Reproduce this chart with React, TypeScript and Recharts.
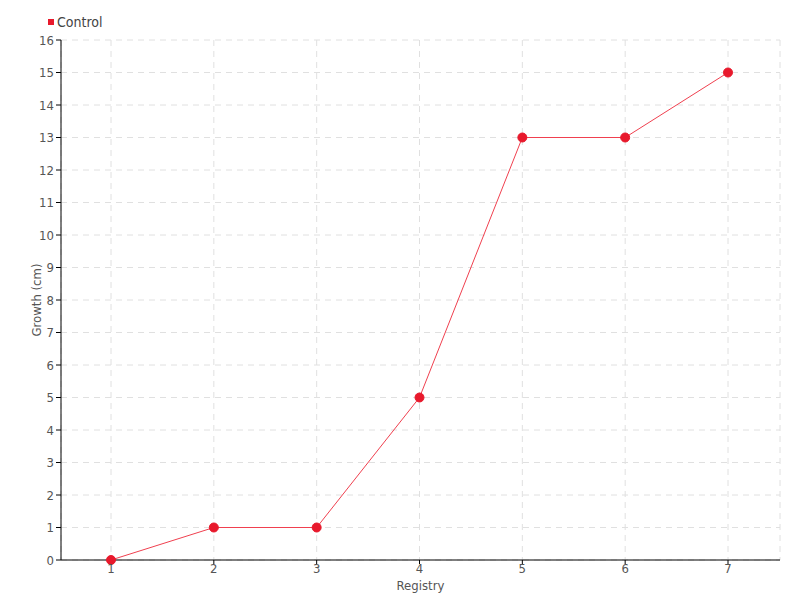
import React from 'react';
import { LineChart, Line, XAxis, YAxis, CartesianGrid, Legend } from 'recharts';

const categories = ['1', '2', '3', '4', '5', '6', '7'];
const controlValues = [0, 1, 1, 5, 13, 13, 15];
const yTicks = [0, 1, 2, 3, 4, 5, 6, 7, 8, 9, 10, 11, 12, 13, 14, 15, 16];

const data = categories.map((c, i) => ({ x: c, control: controlValues[i] }));

const FONT = '"DejaVu Sans Condensed", "DejaVu Sans", sans-serif';
const RED = '#e8192c';

const LegendContent = () => (
  <div style={{ display: 'flex', alignItems: 'center', fontFamily: FONT, fontSize: 14, color: '#444', lineHeight: '16px' }}>
    <span style={{ width: 6, height: 6, background: RED, display: 'inline-block', marginRight: 3 }} />
    <span>Control</span>
  </div>
);

export default function App() {
  return (
    <div style={{ position: 'absolute', left: 0, top: 0 }}>
      <LineChart width={800} height={600} data={data} margin={{ top: 24, right: 20, bottom: 0, left: 0 }}>
        <CartesianGrid stroke="#e0e0e0" strokeDasharray="6 5" />
        <XAxis
          dataKey="x"
          height={40}
          stroke="#000"
          padding={{ left: 50, right: 52 }}
          tick={{ fill: '#555', fontSize: 13, fontFamily: FONT }}
          tickSize={4}
          tickMargin={0}
          label={{ value: 'Registry', position: 'insideBottom', offset: 10, fill: '#555', fontSize: 13, fontFamily: FONT }}
        />
        <YAxis
          width={61}
          domain={[0, 16]}
          ticks={yTicks}
          interval={0}
          stroke="#000"
          tick={{ fill: '#555', fontSize: 13, fontFamily: FONT }}
          tickSize={5}
          label={{ value: 'Growth (cm)', angle: -90, position: 'insideLeft', offset: 36, fill: '#555', fontSize: 13, fontFamily: FONT, style: { textAnchor: 'middle' } }}
        />
        <Legend
          verticalAlign="top"
          align="left"
          content={<LegendContent />}
          wrapperStyle={{ position: 'absolute', top: 14, left: 48, width: 'auto' }}
        />
        <Line
          type="linear"
          dataKey="control"
          stroke="#f0404f"
          strokeWidth={1}
          dot={{ r: 4.5, fill: RED, stroke: RED, strokeWidth: 1 }}
          activeDot={false}
          isAnimationActive={false}
        />
      </LineChart>
    </div>
  );
}
